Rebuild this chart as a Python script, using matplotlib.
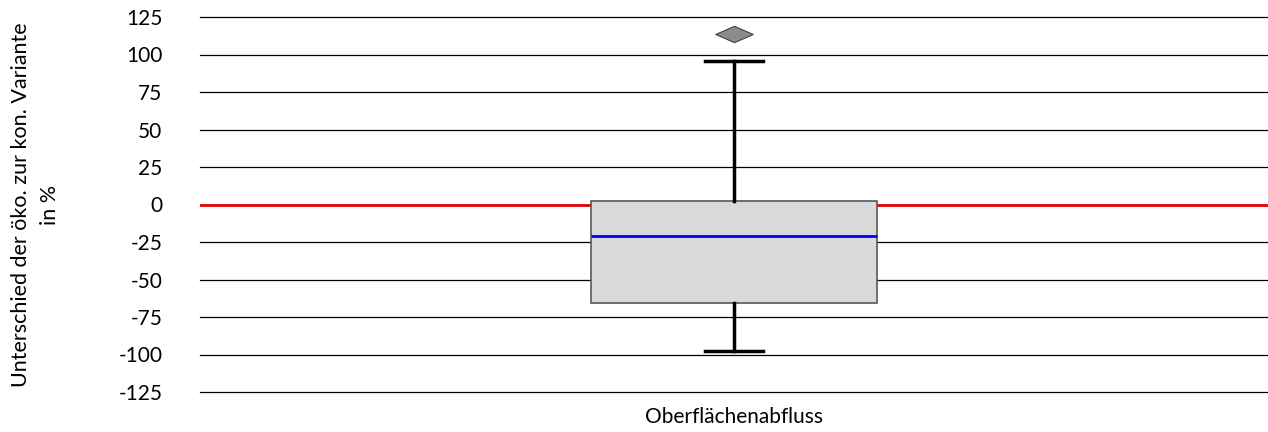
import matplotlib
matplotlib.use("Agg")
import matplotlib.pyplot as plt
from matplotlib.path import Path
import numpy as np

# data
category = "Oberflächenabfluss"
q1 = -65.5
q3 = 2.3
median = -20.8
whisker_low = -97.7
whisker_high = 95.7
outliers = [113.5]
yticks = [125, 100, 75, 50, 25, 0, -25, -50, -75, -100, -125]

plt.rcParams['font.family'] = ['Lato', 'DejaVu Sans']

fig = plt.figure(figsize=(12.68, 4.32), dpi=100)
ax = fig.add_axes([200/1268, 1 - 392/432, 1068/1268, 375/432])

ax.set_ylim(-125, 125)
ax.set_xlim(-0.5, 0.5)

for t in yticks:
    if t == 0:
        continue
    ax.axhline(t, color='black', lw=0.9, zorder=1, clip_on=False)
ax.axhline(0, color='#e00000', lw=2.0, zorder=1)

stats = [dict(med=median, q1=q1, q3=q3, whislo=whisker_low, whishi=whisker_high,
              fliers=outliers, label=category)]

diamond = Path([(0, 1), (1, 0), (0, -1), (-1, 0), (0, 1)],
               [Path.MOVETO, Path.LINETO, Path.LINETO, Path.LINETO, Path.CLOSEPOLY])
diamond = diamond.transformed(matplotlib.transforms.Affine2D().scale(2.3, 1.0))

ax.bxp(stats, positions=[0.0], widths=0.267, patch_artist=True, zorder=3,
       boxprops=dict(facecolor='#d9d9d9', edgecolor='#595959', lw=1.2),
       medianprops=dict(color='#0000ff', lw=2.0),
       whiskerprops=dict(color='black', lw=2.5),
       capprops=dict(color='black', lw=2.5),
       capwidths=0.055,
       flierprops=dict(marker=diamond, markersize=27, markerfacecolor='#8c8c8c',
                       markeredgecolor='#404040', markeredgewidth=0.8))

ax.set_yticks(yticks)
ax.set_yticklabels([str(t) for t in yticks], fontsize=15)
ax.tick_params(axis='y', length=0, pad=27)
ax.tick_params(axis='x', length=0, pad=11, labelsize=15)
for s in ax.spines.values():
    s.set_visible(False)

fig.text(0.028, 1 - 205/432, "Unterschied der öko. zur kon. Variante\nin %",
         rotation=90, ha='center', va='center', fontsize=15.5, linespacing=1.6,
         multialignment='center')

fig.savefig("out.png", dpi=100)
